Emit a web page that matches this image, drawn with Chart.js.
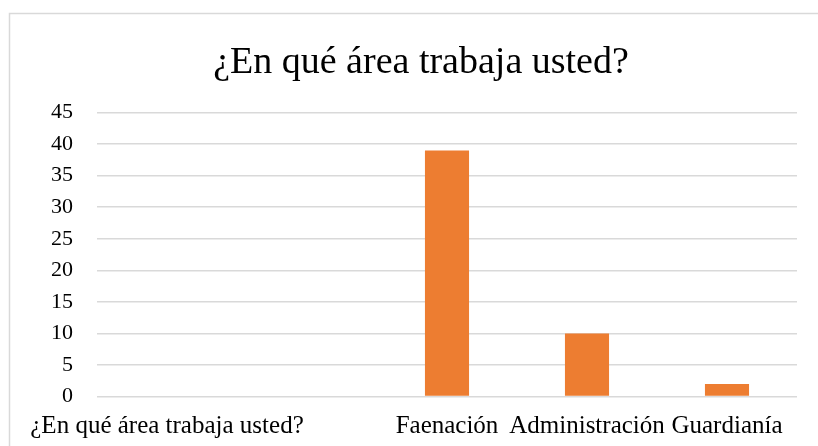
<!DOCTYPE html>
<html>
<head>
<meta charset="utf-8">
<script src="https://cdn.jsdelivr.net/npm/chart.js@4"></script>
<style>
html,body{margin:0;padding:0;background:#fff;}
#wrap{width:818px;height:446px;position:relative;}
</style>
</head>
<body>
<div id="wrap"><canvas id="c" width="818" height="446"></canvas></div>
<script>
const chartTitle = "¿En qué área trabaja usted?";
const categories = ["¿En qué área trabaja usted?", "", "Faenación", "Administración", "Guardianía"];
const values = [null, null, 39, 10, 2];
const yTicks = [0, 5, 10, 15, 20, 25, 30, 35, 40, 45];

const SERIF = "'Liberation Serif', 'Times New Roman', serif";

const frame = {
  id: 'frame',
  beforeDraw(chart) {
    const ctx = chart.ctx;
    ctx.save();
    ctx.fillStyle = '#fff';
    ctx.fillRect(0, 0, chart.width, chart.height);
    ctx.strokeStyle = '#d9d9d9';
    ctx.lineWidth = 1.5;
    ctx.strokeRect(9.5, 13.5, chart.width + 20, chart.height + 20);
    ctx.restore();
  }
};

new Chart(document.getElementById('c'), {
  type: 'bar',
  data: {
    labels: categories,
    datasets: [{
      data: values,
      backgroundColor: '#ED7D31',
      borderWidth: 0,
      categoryPercentage: 1,
      barPercentage: 0.315
    }]
  },
  options: {
    responsive: false,
    animation: false,
    devicePixelRatio: 1,
    layout: { padding: { left: 45, right: 21, top: 0, bottom: 0 } },
    plugins: {
      legend: { display: false },
      tooltip: { enabled: false },
      title: {
        display: true,
        text: chartTitle,
        color: '#000',
        font: { family: SERIF, size: 38, weight: 'normal' },
        padding: { top: 40, bottom: 27 }
      }
    },
    scales: {
      x: {
        grid: { display: false, drawTicks: false },
        border: { display: false },
        ticks: {
          color: '#000',
          font: { family: SERIF, size: 25 },
          padding: 15,
          autoSkip: false,
          maxRotation: 0,
          minRotation: 0
        },
        afterFit(scale) { scale.height = 49.5; }
      },
      y: {
        min: 0,
        max: 45,
        afterBuildTicks(scale) { scale.ticks = yTicks.map(v => ({ value: v })); },
        grid: { color: '#d9d9d9', lineWidth: 1.5, drawTicks: false },
        border: { display: false },
        ticks: {
          color: '#000',
          font: { family: SERIF, size: 22 },
          padding: 24
        },
        afterFit(scale) { scale.width = 52; }
      }
    }
  },
  plugins: [frame]
});
</script>
</body>
</html>
